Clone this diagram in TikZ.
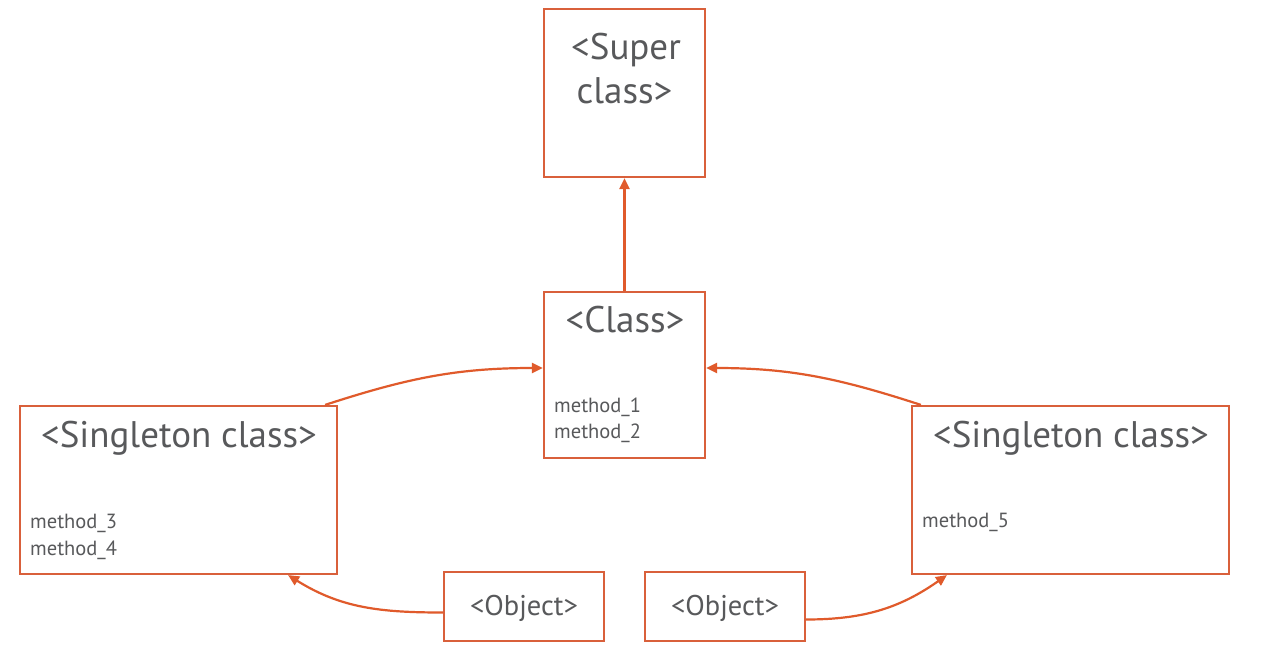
\documentclass[tikz,border=0pt]{standalone}
\usepackage{fontspec}
\setmainfont{PT Sans}
\usetikzlibrary{arrows.meta,calc}
\definecolor{boxc}{HTML}{D9603B}
\definecolor{arrc}{HTML}{E05A2B}
\definecolor{txt}{HTML}{58595B}
\begin{document}
\begin{tikzpicture}[x=1pt,y=-1pt,
  box/.style={draw=boxc,line width=2.2pt,fill=white,inner sep=0pt},
  big/.style={text=txt,font=\fontsize{37}{41}\selectfont,inner sep=0pt,anchor=base},
  obj/.style={text=txt,font=\fontsize{28.5}{32}\selectfont,inner sep=0pt,anchor=base},
  meth/.style={text=txt,font=\fontsize{20.5}{24}\selectfont,inner sep=0pt,anchor=base west},
  arr/.style={draw=arrc,line width=2.2pt,-{Triangle[length=11pt,width=10pt]}}]
\useasboundingbox (0,0) rectangle (1262,656);
\fill[white] (0,0) rectangle (1262,656);
% boxes
\node[box,minimum width=161pt,minimum height=168pt] (sup) at (624.5,93) {};
\node[box,minimum width=161pt,minimum height=166pt] (cls) at (624.5,375) {};
\node[box,minimum width=317pt,minimum height=168pt] (ls) at (178.5,490) {};
\node[box,minimum width=317pt,minimum height=168pt] (rs) at (1070.5,490) {};
\node[box,minimum width=160pt,minimum height=69pt] (ol) at (524,606.5) {};
\node[box,minimum width=160pt,minimum height=69pt] (or) at (725,606.5) {};
% texts
\node[big] (tsup1) at (626,59) {<Super};
\node[big] (tsup2) at (624.5,103) {class>};
\node[big] (tcls) at (625,332) {<Class>};
\node[big] (tls) at (179,447) {<Singleton class>};
\node[big] (trs) at (1071,447) {<Singleton class>};
\node[obj] (tol) at (524,615) {<Object>};
\node[obj] (tor) at (725,615) {<Object>};
\node[meth] (m1) at (554,412) {method\_1};
\node[meth] (m2) at (554,438) {method\_2};
\node[meth] (m3) at (30,528) {method\_3};
\node[meth] (m4) at (30,555) {method\_4};
\node[meth] (m5) at (922,527) {method\_5};
% connectors
\draw[arr] (cls.north) -- (sup.south);
\draw[arr] ([xshift=-13pt]ls.north east) to[out=18,in=180] ([yshift=7pt]cls.west);
\draw[arr] ([xshift=10pt]rs.north west) to[out=162,in=0] ([yshift=7pt]cls.east);
\draw[arr] ([yshift=-6pt]ol.west) to[out=180,in=-32] ([xshift=-50pt]ls.south east);
\draw[arr] ([yshift=-13pt]or.east) to[out=0,in=-145] ([xshift=36pt]rs.south west);
\end{tikzpicture}
\end{document}
